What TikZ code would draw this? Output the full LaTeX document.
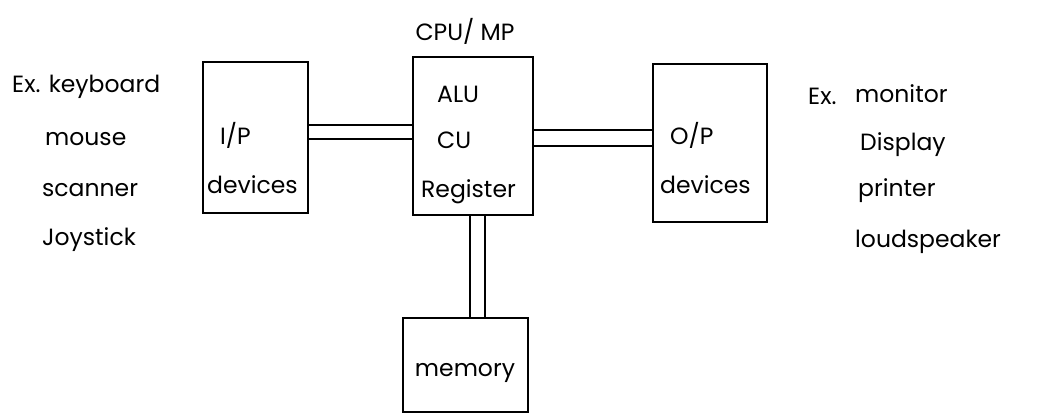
\documentclass[tikz,border=0pt]{standalone}
\usepackage{fontspec}
\setmainfont{Poppins}
\begin{document}
\begin{tikzpicture}[x=1pt,y=-1pt,
  box/.style={draw,line width=1.3pt,minimum width=0pt,minimum height=0pt,inner sep=0pt},
  conn/.style={line width=1.2pt},
  txt/.style={font=\fontsize{23.5}{28}\selectfont,inner sep=0pt,anchor=base west}]
\useasboundingbox (0,0) rectangle (1061,416);
% boxes
\node[box,minimum width=105pt,minimum height=151pt] (ip) at (255.5,137.5) {};
\node[box,minimum width=120pt,minimum height=158pt] (cpu) at (473,136) {};
\node[box,minimum width=114pt,minimum height=158pt] (op) at (710,143) {};
\node[box,minimum width=125pt,minimum height=94pt] (mem) at (465.5,365) {};
% connectors
\coordinate (a1) at (308,125); \coordinate (a2) at (308,139);
\draw[conn] (ip.east |- a1) -- (cpu.west |- a1);
\draw[conn] (ip.east |- a2) -- (cpu.west |- a2);
\coordinate (b1) at (533,130); \coordinate (b2) at (533,146);
\draw[conn] (cpu.east |- b1) -- (op.west |- b1);
\draw[conn] (cpu.east |- b2) -- (op.west |- b2);
\coordinate (c1) at (470,215); \coordinate (c2) at (485,215);
\draw[conn] (cpu.south -| c1) -- (mem.north -| c1);
\draw[conn] (cpu.south -| c2) -- (mem.north -| c2);
% texts
\node[txt,anchor=base] (cpulbl) at (465,40) {CPU/ MP};
\node[txt] (l1) at (12,92) {Ex. keyboard};
\node[txt] (l2) at (45,145) {mouse};
\node[txt] (l3) at (42,196) {scanner};
\node[txt] (l4) at (42,245) {Joystick};
\node[txt] (ip1) at (220,144) {I/P};
\node[txt] (ip2) at (207,193) {devices};
\node[txt] (cp1) at (437,102) {ALU};
\node[txt] (cp2) at (437,148) {CU};
\node[txt] (cp3) at (421,197) {Register};
\node[txt] (op1) at (670,144) {O/P};
\node[txt] (op2) at (660,193) {devices};
\node[txt] (r0) at (808,104) {Ex.};
\node[txt] (r1) at (855,102) {monitor};
\node[txt] (r2) at (860,150) {Display};
\node[txt] (r3) at (858,196) {printer};
\node[txt] (r4) at (855,247) {loudspeaker};
\node[txt,anchor=base] (m1) at (465,376) {memory};
\end{tikzpicture}
\end{document}
